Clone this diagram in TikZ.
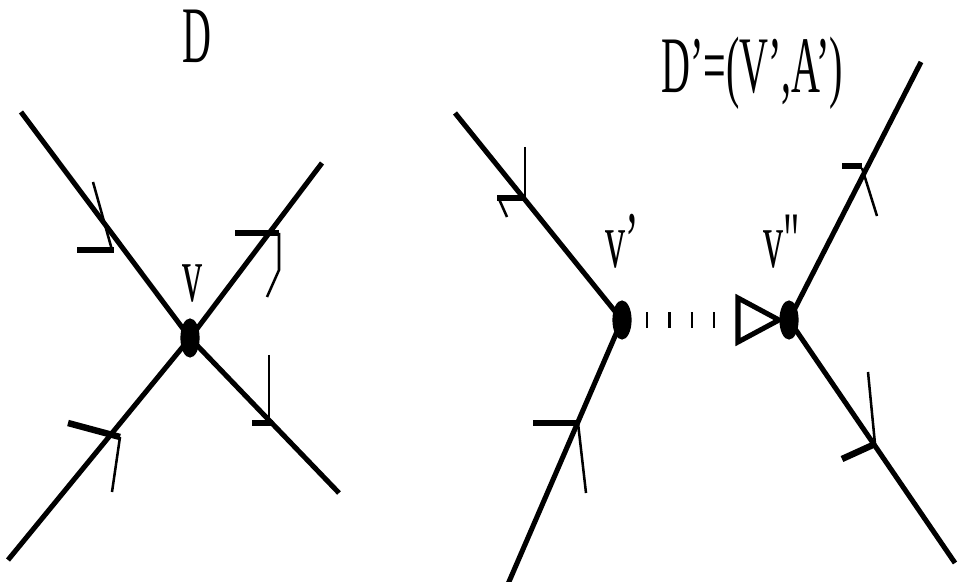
\documentclass[tikz,border=0pt]{standalone}
\usepackage{fontspec}
\newfontfamily\narrowserif[FakeStretch=0.5]{Liberation Serif}
\newfontfamily\narrowplain[FakeStretch=0.5,Ligatures=TeXOff]{Liberation Serif}
\usetikzlibrary{shapes.geometric}
\begin{document}
\begin{tikzpicture}[x=0.025cm,y=-0.025cm]
 \tikzstyle{arm}=[line width=3.6pt]
 \tikzstyle{barb}=[line width=1.8pt]
 \tikzstyle{bar}=[line width=4.6pt]
 \tikzstyle{vertex}=[ellipse,fill=black,minimum width=0.48cm,
   minimum height=0.98cm,inner sep=0pt]
 \tikzstyle{lbl}=[font=\narrowserif\fontsize{57}{60}\selectfont,inner sep=0pt,
   text height=1.35cm,text depth=0pt]
 \tikzstyle{ticks}=[line width=0.4cm,dash pattern=on 1.6pt off 0.5cm]
 \useasboundingbox (0,0) rectangle (958,582);
 % left diagram D
 \node[lbl,anchor=base] (titleD) at (197,63) {D};
 \node[vertex] (v) at (190,338) {};
 \node[lbl,anchor=base] (labv) at (193,302) {v};
 \coordinate (nw) at (21,112);
 \coordinate (ne) at (322,163);
 \coordinate (sw) at (8,560);
 \coordinate (se) at (339,493);
 \draw[arm] (nw) -- (v.center);
 \draw[arm] (v.center) -- (ne);
 \draw[arm] (sw) -- (v.center);
 \draw[arm] (v.center) -- (se);
 \draw[bar] (77,250) -- (114,250);
 \draw[barb] (93,182) -- (112,250);
 \draw[bar] (235,233) -- (279,233);
 \draw[barb] (279,233) -- (279,270) -- (267,297);
 \draw[bar] (252,423) -- (273,423);
 \draw[barb] (269,355) -- (269,423);
 \draw[bar] (68,423) -- (120,437);
 \draw[barb] (120,437) -- (112,492);
 % right diagram D'
 \node[lbl,anchor=base] (titleDp) at (752,93) {D’=(V’,A’)};
 \node[vertex] (v1) at (622,320) {};
 \node[vertex] (v2) at (789,320) {};
 \node[lbl,anchor=base west] (labv1) at (605,268) {v’};
 \node[font=\narrowplain\fontsize{57}{60}\selectfont,inner sep=0pt,
   anchor=base west] (labv2) at (763,268) {v"};
 \coordinate (nw1) at (455,113);
 \coordinate (sw1) at (508,584);
 \coordinate (ne2) at (921,62);
 \coordinate (se2) at (955,563);
 \draw[arm] (nw1) -- (v1.center);
 \draw[arm] (v1.center) -- (sw1);
 \draw[arm] (v2.center) -- (ne2);
 \draw[arm] (v2.center) -- (se2);
 \coordinate (dashA) at (646,320);
 \coordinate (dashB) at (718,320);
 \draw[ticks] (dashA) -- (dashB);
 \draw[line width=3.6pt,line join=miter] (738,298) -- (779,320) -- (738,342) -- cycle;
 \draw[barb] (525,147) -- (525,198);
 \draw[bar] (497,198) -- (525,198);
 \draw[barb] (499,199) -- (507,217);
 \draw[bar] (533,423) -- (578,423);
 \draw[barb] (578,423) -- (586,493);
 \draw[bar] (842,166) -- (862,166);
 \draw[barb] (862,168) -- (877,216);
 \draw[barb] (868,372) -- (875,444);
 \draw[bar] (875,444) -- (842,459);
\end{tikzpicture}
\end{document}
